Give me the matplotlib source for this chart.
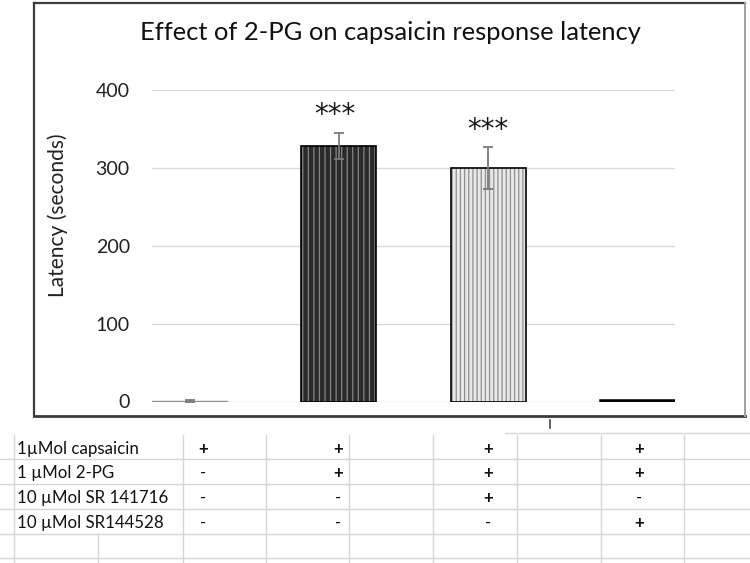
import matplotlib
matplotlib.use('Agg')
import matplotlib.pyplot as plt
from matplotlib.lines import Line2D
import numpy as np

# ---------------- data ----------------
categories = ['Capsaicin', 'Capsaicin + 2-PG', 'Capsaicin + 2-PG + SR141716', 'Capsaicin + 2-PG + SR144528']
latency = [1, 328, 300, 2]
errors = [1.5, 17, 27, 0]
significance = ['', '***', '***', '']
yticks = [0, 100, 200, 300, 400]
row_labels = ['1µMol capsaicin', '1 µMol 2-PG', '10 µMol SR 141716', '10 µMol SR144528']
table_marks = [['+', '+', '+', '+'],
               ['-', '+', '+', '+'],
               ['-', '-', '+', '-'],
               ['-', '-', '-', '+']]
title = 'Effect of 2-PG on capsaicin response latency'
ylabel = 'Latency (seconds)'

# ---------------- layout ----------------
W, H = 750, 563
plt.rcParams['font.family'] = ['Lato', 'DejaVu Sans']
plt.rcParams['hatch.linewidth'] = 0.9
fig = plt.figure(figsize=(7.5, 5.63), dpi=100)
renderer = fig.canvas.get_renderer()


def fx(px):
    return px / W


def fy(py):
    return 1 - py / H


def fit_w(t, target):
    bb = t.get_window_extent(renderer)
    t.set_fontsize(t.get_fontsize() * target / bb.width)


def fit_h(t, target):
    bb = t.get_window_extent(renderer)
    t.set_fontsize(t.get_fontsize() * target / bb.height)


bw = 0.503
ax = fig.add_axes([fx(152), fy(401.5), fx(675) - fx(152), fy(90) - fy(401.5)])
x = np.arange(len(categories))

face = ['#ffffff', '#2a2a2a', '#e8e8e8', '#000000']
hatch_col = ['#ffffff', '#858585', '#8e8e8e', '#000000']
hatches = [None, '|||', '||||', None]
edge = ['#8c8c8c', '#000000', '#000000', '#000000']
elw = [1.0, 1.2, 1.2, 1.8]

for i in range(len(categories)):
    ax.bar(x[i], latency[i], width=bw, color=face[i], hatch=hatches[i],
           edgecolor=hatch_col[i], linewidth=0, zorder=2)
    ax.bar(x[i], latency[i], width=bw, facecolor='none',
           edgecolor=edge[i], linewidth=elw[i], zorder=3)

mask = [e > 0 for e in errors]
ax.errorbar(x[mask], np.array(latency)[mask], yerr=np.array(errors)[mask], fmt='none',
            ecolor='#7a7a7a', elinewidth=1.3, capsize=3.5, capthick=1.3, zorder=4)

for i, s in enumerate(significance):
    if s:
        ax.text(x[i] - (0.03 if i == 1 else 0), latency[i] + errors[i] + 12, s,
                ha='center', va='baseline', fontsize=20, color='#1a1a1a', zorder=5,
                family=['DejaVu Sans'])

ax.set_xlim(-bw / 2, x[-1] + bw / 2)
ax.set_ylim(0, 400)
ax.set_yticks(yticks)
ax.set_xticks([])
ax.yaxis.grid(True, color='#d9d9d9', linewidth=1.0, zorder=0)
ax.set_axisbelow(True)
for sp in ax.spines.values():
    sp.set_visible(False)
ax.tick_params(axis='y', length=0, pad=16)

# measure tick font size
probe = fig.text(0, 0, '400', fontsize=12)
fit_w(probe, 34)
tick_fs = probe.get_fontsize()
probe.remove()
ax.tick_params(axis='y', labelsize=tick_fs, labelcolor='#222222')

yl = ax.set_ylabel(ylabel, color='#222222', fontsize=12)
fit_h(yl, 163)
yl.set_va('center')
ax.yaxis.set_label_coords((58 - 152) / 523, (401.5 - 215) / 311.5)

tt = fig.text(fx(390), fy(33), title, ha='center', va='center', fontsize=16, color='#111111')
fit_w(tt, 501)

# ---------------- chart frame ----------------
dark = '#3c3c3c'
fig.add_artist(Line2D([fx(34), fx(34)], [fy(3), fy(416)], color=dark, lw=1.6))
fig.add_artist(Line2D([fx(34), fx(745)], [fy(3), fy(3)], color=dark, lw=1.6))
fig.add_artist(Line2D([fx(34), fx(745)], [fy(416), fy(416)], color=dark, lw=2.0))
fig.add_artist(Line2D([fx(745), fx(745)], [fy(3), fy(416)], color='#a0a0a0', lw=1.4))
fig.add_artist(Line2D([fx(550), fx(550)], [fy(420), fy(428)], color='#444444', lw=1.2))

# ---------------- table below ----------------
gcol = '#d6d6d6'
for yy in [459, 484, 509, 534, 558]:
    fig.add_artist(Line2D([0, 1], [fy(yy), fy(yy)], color=gcol, lw=1.0))
fig.add_artist(Line2D([fx(505), 1], [fy(433), fy(433)], color=gcol, lw=1.0))
for xx in [14, 183, 266, 349, 433, 517, 601, 684]:
    fig.add_artist(Line2D([fx(xx), fx(xx)], [fy(435), 0], color=gcol, lw=1.0))
fig.add_artist(Line2D([fx(98), fx(98)], [fy(534), 0], color=gcol, lw=1.0))

row_y = [449, 473, 498, 523]
col_x = [203, 338, 488, 639]
lab_texts = []
for r, lab in enumerate(row_labels):
    t = fig.text(fx(17), fy(row_y[r]), lab, ha='left', va='center', fontsize=11, color='#111111')
    lab_texts.append(t)
fit_w(lab_texts[2], 151)
lab_fs = lab_texts[2].get_fontsize()
for t in lab_texts:
    t.set_fontsize(lab_fs)
for r, marks in enumerate(table_marks):
    for c, m in enumerate(marks):
        fig.text(fx(col_x[c]), fy(row_y[r]), m, ha='center', va='center',
                 fontsize=lab_fs, color='#111111', fontweight='bold' if m == '+' else 'normal')

fig.savefig('out.png', dpi=100)
